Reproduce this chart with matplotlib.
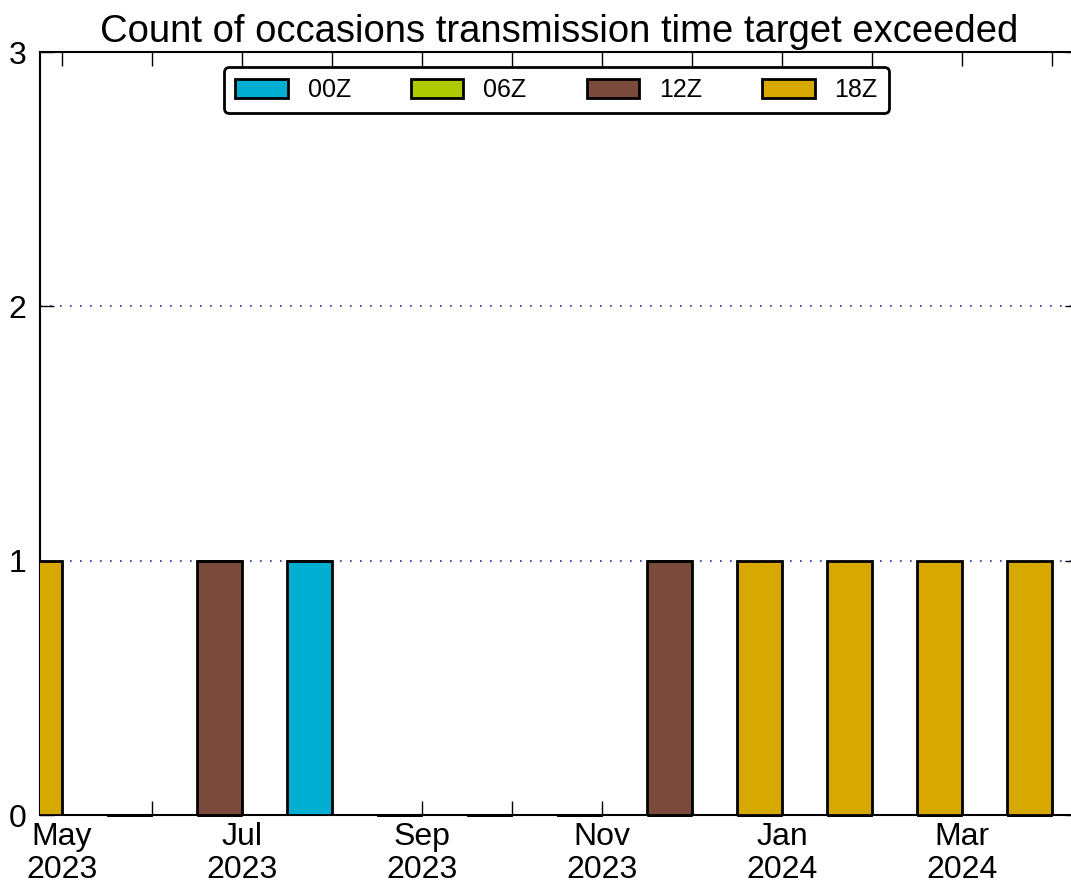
import numpy as np
import matplotlib
matplotlib.use("Agg")
import matplotlib.pyplot as plt

plt.rcParams['font.family'] = ['Liberation Sans', 'DejaVu Sans']

# month index 0 = May 2023 ... 11 = Apr 2024
months = ["May\n2023", "Jun\n2023", "Jul\n2023", "Aug\n2023", "Sep\n2023", "Oct\n2023",
          "Nov\n2023", "Dec\n2023", "Jan\n2024", "Feb\n2024", "Mar\n2024", "Apr\n2024"]
counts_00z = [0, 0, 0, 1, 0, 0, 0, 0, 0, 0, 0, 0]
counts_06z = [0, 0, 0, 0, 0, 0, 0, 0, 0, 0, 0, 0]
counts_12z = [0, 0, 1, 0, 0, 0, 0, 1, 0, 0, 0, 0]
counts_18z = [1, 0, 0, 0, 0, 0, 0, 0, 1, 1, 1, 1]

series = [("00Z", counts_00z, "#00aed1"),
          ("06Z", counts_06z, "#aecb00"),
          ("12Z", counts_12z, "#7a4b3b"),
          ("18Z", counts_18z, "#d6a800")]

W, H = 1071, 888
fig = plt.figure(figsize=(W / 100, H / 100), dpi=100)
# axes runs past the right edge of the figure, like the reference crop
left, right, top, bottom = 40, 1079, 52, 815
ax = fig.add_axes([left / W, 1 - bottom / H, (right - left) / W, (bottom - top) / H])

xmin, xmax = -0.244, 11.3
x = np.arange(len(months))
base = np.zeros(len(months))
for name, vals, col in series:
    bars = ax.bar(x, vals, width=-0.5, align='edge', bottom=base, color=col,
                  edgecolor='black', linewidth=2, label=name, zorder=3)
    # empty bars show as a thick line on the axis, don't clip half of it
    for p in bars.patches:
        if p.get_height() == 0 and p.get_y() == 0 and min(p.get_x(), p.get_x() + p.get_width()) >= xmin:
            p.set_clip_on(False)
    base = base + np.array(vals)

ax.set_xlim(xmin, xmax)
ax.set_ylim(0, 3)
ax.set_yticks([0, 1, 2, 3])
ax.set_xticks(x)
ax.set_xticklabels([m if i % 2 == 0 else "" for i, m in enumerate(months)],
                   linespacing=1.15)
ax.tick_params(direction='in', length=10, width=1, top=True, right=True,
               labelsize=23, pad=5)
ax.tick_params(axis='y', pad=10)

for yv in [1, 2]:
    ax.axhline(yv, color='#2233aa', linestyle=(0, (1, 5)), linewidth=1.2, zorder=1)

for sp in ax.spines.values():
    sp.set_linewidth(1.5)

ax.set_title("Count of occasions transmission time target exceeded", fontsize=27.5, pad=7)

leg = ax.legend(loc='upper center', bbox_to_anchor=(0.497, 1 - 15 / 763), ncol=4,
                fontsize=18, frameon=True, fancybox=True, handlelength=2.1,
                handleheight=0.8, handletextpad=0.8, columnspacing=2.4,
                borderpad=0.45, borderaxespad=0)
leg.get_frame().set_edgecolor('black')
leg.get_frame().set_linewidth(2)
leg.get_frame().set_alpha(1)

fig.savefig("out.png", dpi=100)
